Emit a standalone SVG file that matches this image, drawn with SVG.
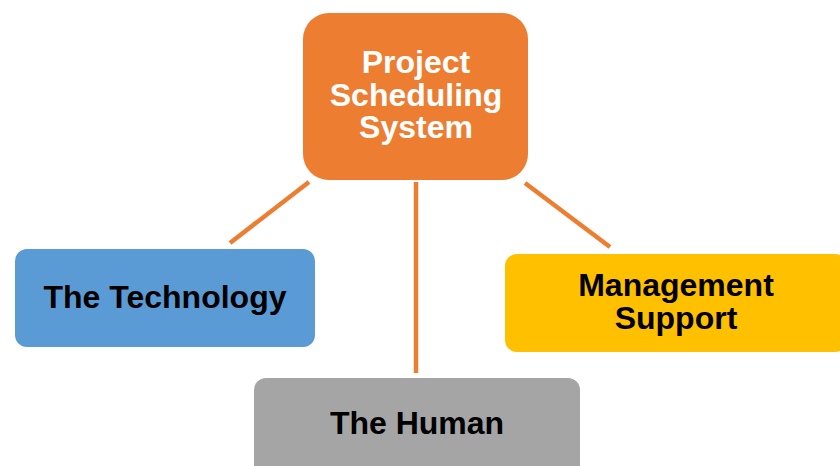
<svg xmlns="http://www.w3.org/2000/svg" width="840" height="466" viewBox="0 0 840 466">
<style>
.lbl{font-family:"Liberation Sans",Arial,sans-serif;font-weight:bold;font-size:32px;text-anchor:middle;fill:#000}
.wh{fill:#fff}
.con{stroke:#ED7D31;stroke-width:4.5;fill:none}
</style>
<rect width="840" height="466" fill="#fff"/>
<g id="connectors">
<line class="con" x1="309" y1="182" x2="230" y2="243"/>
<line class="con" x1="416" y1="182" x2="416" y2="373"/>
<line class="con" x1="525" y1="183" x2="610" y2="247"/>
</g>
<g id="node-pss">
<rect x="303" y="13" width="225" height="167" rx="26" fill="#ED7D31"/>
<text class="lbl wh" x="416" y="73">Project</text>
<text class="lbl wh" x="416" y="105.5">Scheduling</text>
<text class="lbl wh" x="416" y="138">System</text>
</g>
<g id="node-tech">
<rect x="15" y="249" width="300" height="98" rx="12" fill="#5B9BD5"/>
<text class="lbl" x="165" y="308">The Technology</text>
</g>
<g id="node-mgmt">
<rect x="505" y="254" width="342" height="98" rx="12" fill="#FFC000"/>
<text class="lbl" x="676" y="296">Management</text>
<text class="lbl" x="676" y="329">Support</text>
</g>
<g id="node-human">
<rect x="254" y="378" width="326" height="100" rx="12" fill="#A5A5A5"/>
<text class="lbl" x="417" y="434">The Human</text>
</g>
</svg>
